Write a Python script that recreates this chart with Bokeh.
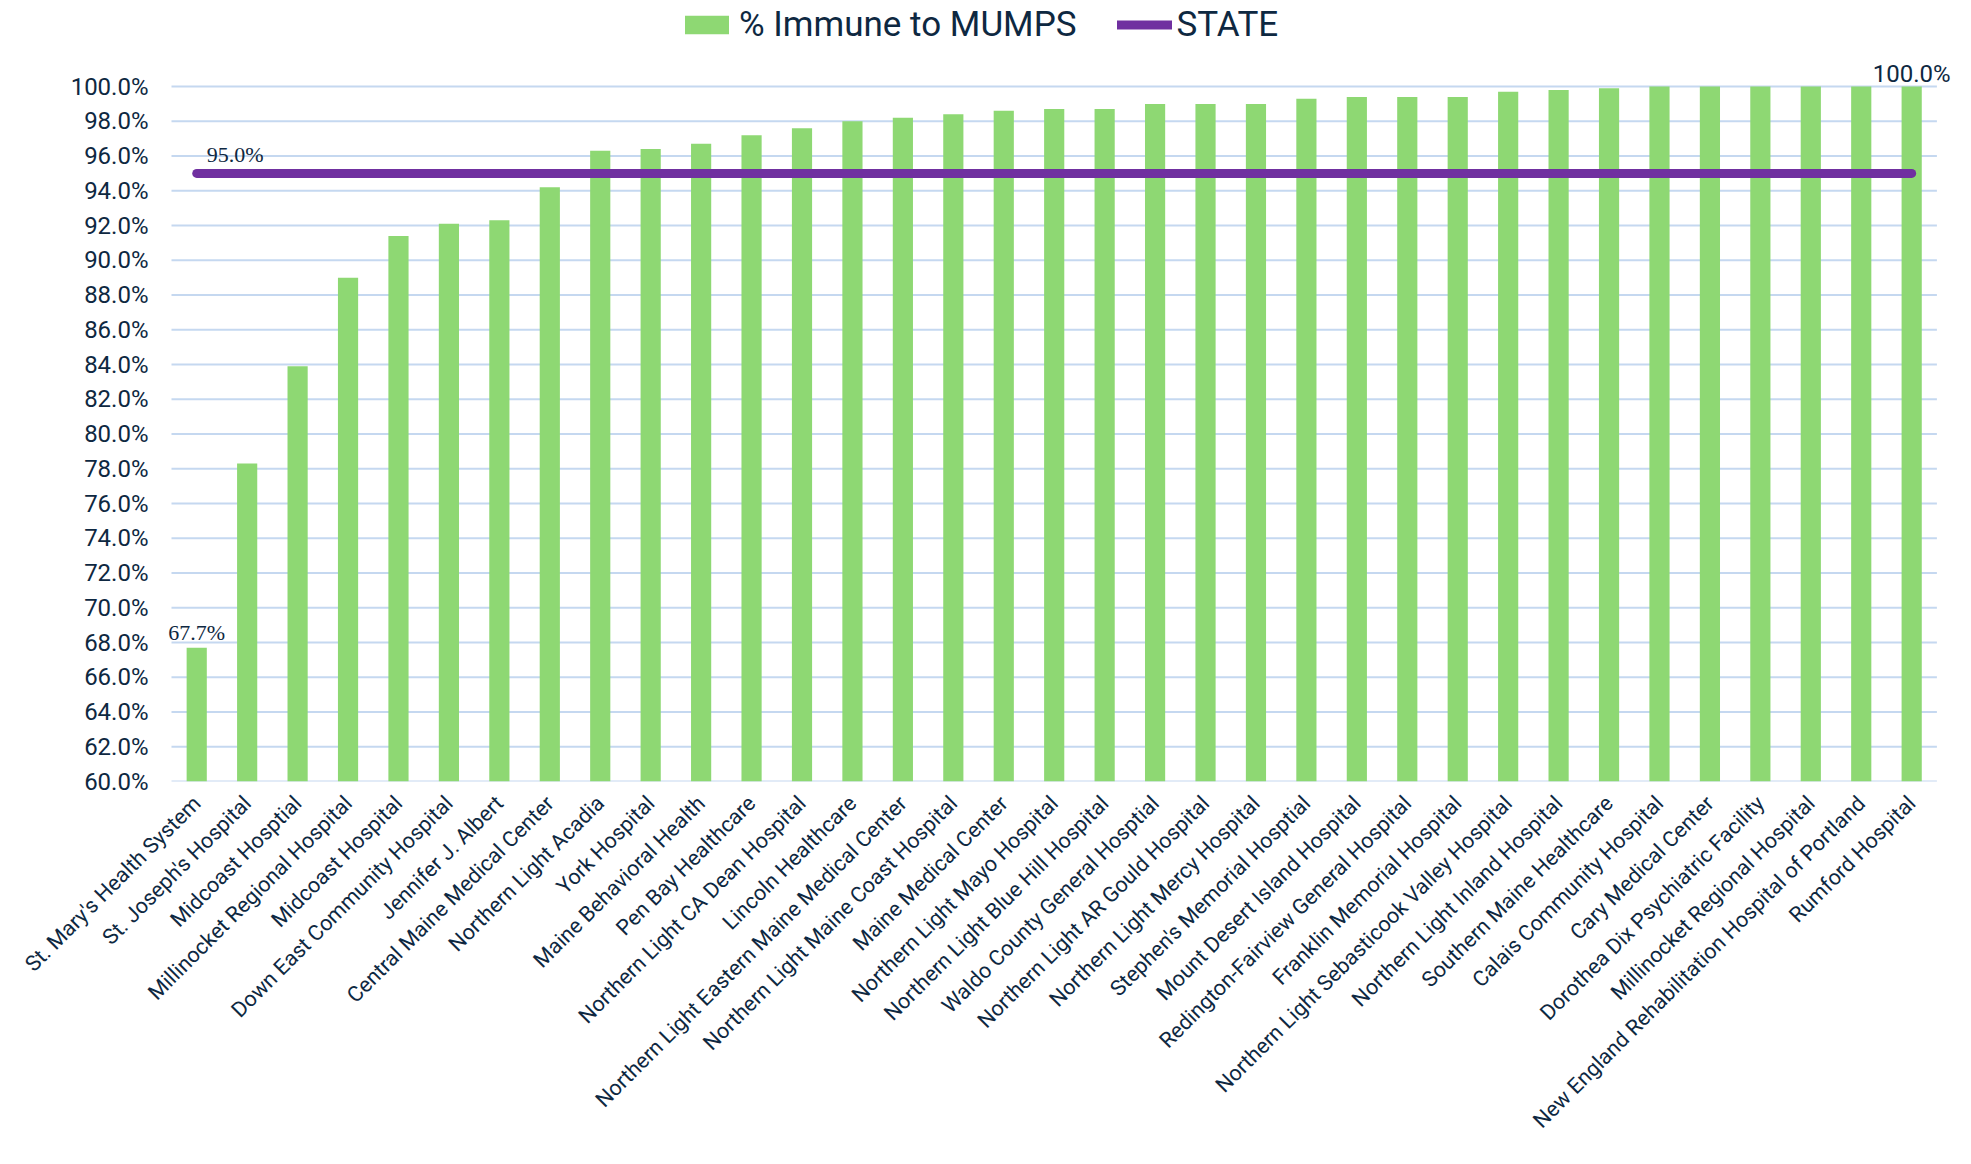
import math
from bokeh.plotting import figure
from bokeh.models import (ColumnDataSource, FixedTicker, PrintfTickFormatter, Legend,
                          LegendItem, Label, Range1d)
from bokeh.embed import file_html
from bokeh.resources import INLINE

hospitals = [
    "St. Mary's Health System",
    "St. Joseph's Hospital",
    "Midcoast Hosptial",
    "Millinocket Regional Hospital",
    "Midcoast Hospital",
    "Down East Community Hospital",
    "Jennifer J. Albert",
    "Central Maine Medical Center",
    "Northern Light Acadia",
    "York Hospital",
    "Maine Behavioral Health",
    "Pen Bay Healthcare",
    "Northern Light CA Dean Hospital",
    "Lincoln Healthcare",
    "Northern Light Eastern Maine Medical Center",
    "Northern Light Maine Coast Hospital",
    "Maine Medical Center",
    "Northern Light Mayo Hospital",
    "Northern Light Blue Hill Hospital",
    "Waldo County General Hosptial",
    "Northern Light AR Gould Hospital",
    "Northern Light Mercy Hospital",
    "Stephen's Memorial Hosptial",
    "Mount Desert Island Hospital",
    "Redington-Fairview General Hospital",
    "Franklin Memorial Hospital",
    "Northern Light Sebasticook Valley Hospital",
    "Northern Light Inland Hospital",
    "Southern Maine Healthcare",
    "Calais Community Hospital",
    "Cary Medical Center",
    "Dorothea Dix Psychiatric Facility",
    "Millinocket Regional Hospital",
    "New England Rehabilitation Hospital of Portland",
    "Rumford Hospital",
]

immune_pct = [
    67.7, 78.3, 83.9, 89.0, 91.4, 92.1, 92.3, 94.2, 96.3, 96.4,
    96.7, 97.2, 97.6, 98.0, 98.2, 98.4, 98.6, 98.7, 98.7, 99.0,
    99.0, 99.0, 99.3, 99.4, 99.4, 99.4, 99.7, 99.8, 99.9, 100.0,
    100.0, 100.0, 100.0, 100.0, 100.0,
]

state_pct = 95.0
y_ticks = [60, 62, 64, 66, 68, 70, 72, 74, 76, 78, 80, 82, 84, 86, 88, 90, 92, 94, 96, 98, 100]

TEXT = "#0E2841"
GREEN = "#8ED873"
PURPLE = "#7030A0"
GRID = "#C5D8F0"
SANS = "Roboto"
SERIF = "Liberation Serif"

W, H = 1968, 1162
LEFT, BOTTOM = 160, 381          # border sizes (px)
CAT_LEFT = 171                   # pixel where the first category starts
CAT_PX = 50.44                   # pixel width of one category
PCT_PX = 17.375                  # pixel height of one percentage point

n = len(hospitals)
xs = list(range(n))
src = ColumnDataSource(dict(x=xs, y=immune_pct))

x_start = -0.5 - (CAT_LEFT - LEFT) / CAT_PX
x_end = x_start + (W - LEFT) / CAT_PX
y_start = y_ticks[0]
y_end = y_start + (H - BOTTOM) / PCT_PX

p = figure(width=W, height=H, output_backend="svg", toolbar_location=None,
           x_range=Range1d(x_start, x_end), y_range=Range1d(y_start, y_end),
           min_border_left=LEFT, min_border_right=0, min_border_top=0,
           min_border_bottom=BOTTOM)
p.outline_line_color = None
p.background_fill_color = "white"
p.border_fill_color = "white"

# horizontal gridlines, spanning the category area only
p.xgrid.visible = False
p.ygrid.visible = False
p.segment(x0=[xs[0] - 0.5] * len(y_ticks), x1=[xs[-1] + 0.5] * len(y_ticks),
          y0=y_ticks, y1=y_ticks, line_color=GRID, line_width=2)

bars = p.vbar(x="x", top="y", bottom=y_ticks[0], width=0.40, source=src,
              fill_color=GREEN, line_color=None)

state_line = p.line(x=[xs[0], xs[-1]], y=[state_pct, state_pct], line_color=PURPLE,
                    line_width=9, line_cap="round")

# y axis
p.yaxis.ticker = FixedTicker(ticks=y_ticks)
p.yaxis.formatter = PrintfTickFormatter(format="%.1f%%")
p.yaxis.axis_line_color = None
p.yaxis.major_tick_line_color = None
p.yaxis.minor_tick_line_color = None
p.yaxis.major_tick_out = 0
p.yaxis.minor_tick_out = 0
p.yaxis.major_label_standoff = 23 - (CAT_LEFT - LEFT)
p.yaxis.major_label_text_font = SANS
p.yaxis.major_label_text_font_size = "24px"
p.yaxis.major_label_text_color = TEXT

# x axis
p.xaxis.ticker = FixedTicker(ticks=xs)
p.xaxis.major_label_overrides = {i: h for i, h in zip(xs, hospitals)}
p.xaxis.major_label_orientation = math.pi / 4
p.xaxis.axis_line_color = None
p.xaxis.major_tick_line_color = None
p.xaxis.minor_tick_line_color = None
p.xaxis.major_tick_out = 0
p.xaxis.minor_tick_out = 0
p.xaxis.major_label_standoff = 18
p.xaxis.major_label_text_font = SANS
p.xaxis.major_label_text_font_size = "21.5px"
p.xaxis.major_label_text_color = TEXT

# data labels
p.add_layout(Label(x=xs[0], y=state_pct, text=f"{state_pct:.1f}%", x_offset=10, y_offset=19,
                   text_font=SERIF, text_font_size="22px", text_color=TEXT,
                   text_align="left", text_baseline="alphabetic"))
p.add_layout(Label(x=xs[0], y=immune_pct[0], text=f"{immune_pct[0]:.1f}%", y_offset=15,
                   text_font=SERIF, text_font_size="22px", text_color=TEXT,
                   text_align="center", text_baseline="alphabetic"))
p.add_layout(Label(x=xs[-1], y=immune_pct[-1], text=f"{immune_pct[-1]:.1f}%", y_offset=13,
                   text_font=SANS, text_font_size="24px", text_color=TEXT,
                   text_align="center", text_baseline="alphabetic"))

legend = Legend(items=[LegendItem(label="% Immune to MUMPS", renderers=[bars]),
                       LegendItem(label="STATE", renderers=[state_line])],
                orientation="horizontal", location=(508 + CAT_LEFT - LEFT, 736),
                label_text_font=SANS, label_text_font_size="35px", label_text_color=TEXT,
                glyph_width=55, glyph_height=23, label_standoff=5, spacing=40,
                padding=0, margin=0, border_line_alpha=0, background_fill_alpha=0)
p.add_layout(legend, "center")

open("out.html", "w").write(file_html(p, INLINE))
